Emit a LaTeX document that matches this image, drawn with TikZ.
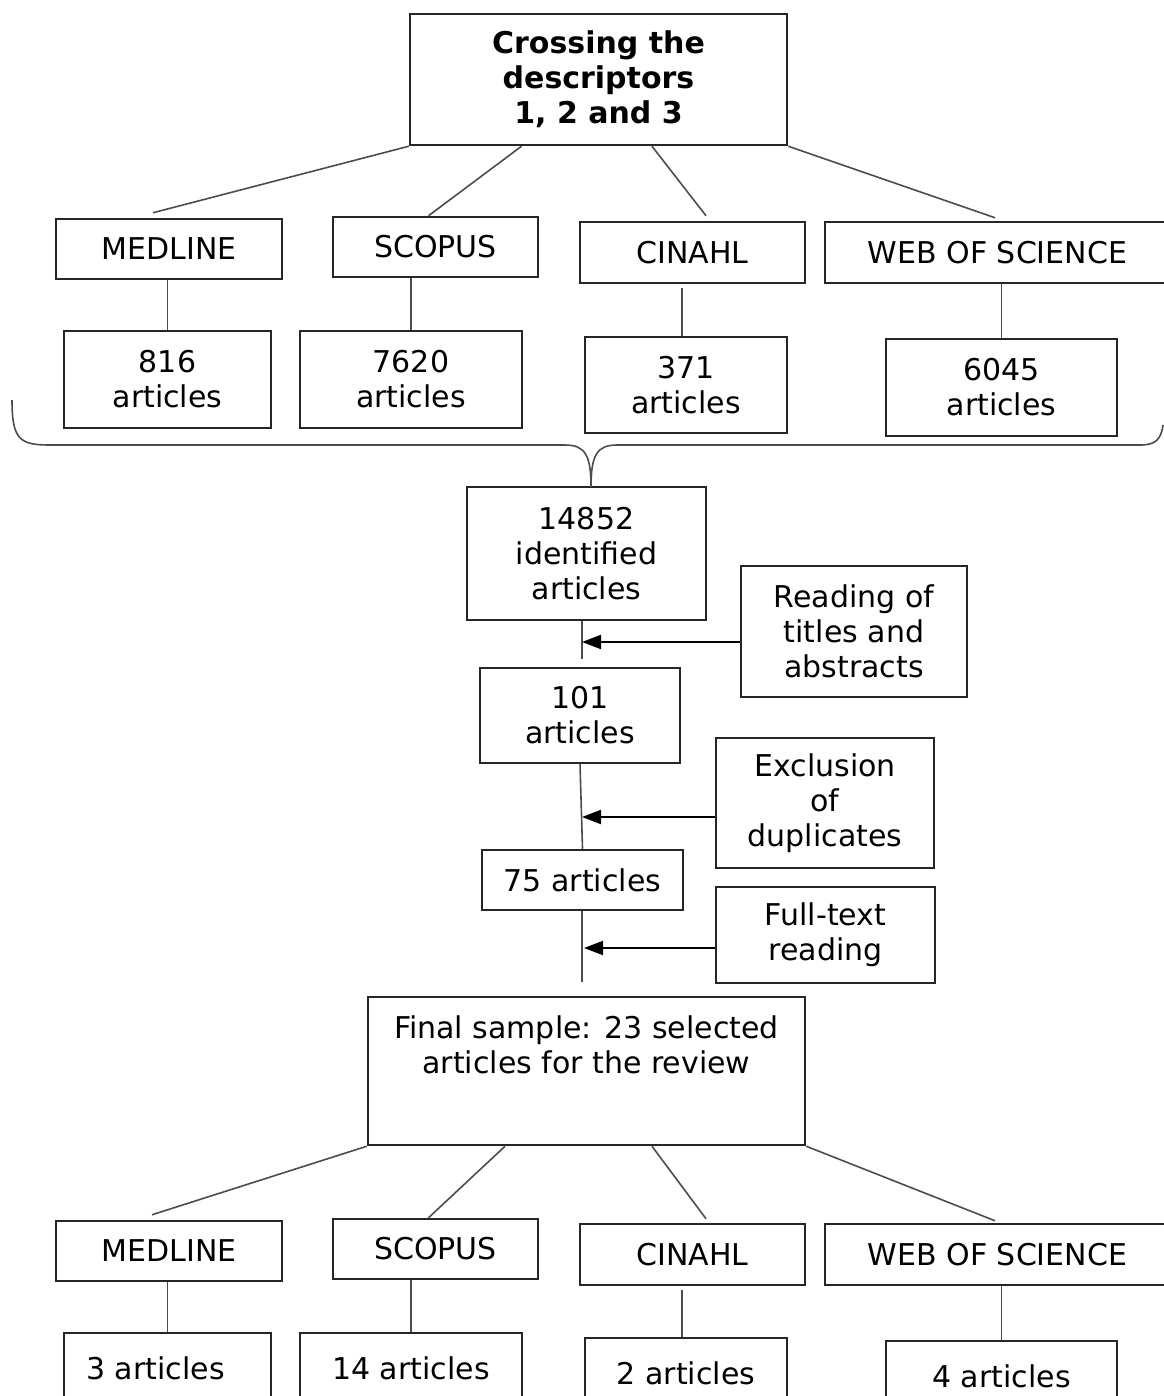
\documentclass[tikz,border=0pt]{standalone}
\usepackage{fontspec}
\setmainfont{DejaVu Sans}
\usetikzlibrary{arrows.meta, positioning, calc}

\begin{document}
\begin{tikzpicture}[x=0.5pt, y=-0.5pt,
  flowbox/.style={draw=black!85, line width=1.25pt, align=center, inner sep=0pt,
    font=\fontsize{15}{17.5}\selectfont},
  conn/.style={draw=black!70, line width=0.8pt},
  arr/.style={draw=black, line width=1pt, -{Triangle[length=9.5pt,width=7pt]}}]
  \useasboundingbox (0,0) rectangle (1163,1396);
  % search
  \node[flowbox, font=\fontsize{15}{17.5}\selectfont\bfseries, minimum width=188.5pt, minimum height=65.5pt]
    (top) at (598.5,79.5) {Crossing the\\descriptors\\1, 2 and 3};
  \node[flowbox, minimum width=113pt, minimum height=30pt] (med) at (169,249) {MEDLINE};
  \node[flowbox, minimum width=102.5pt, minimum height=30pt] (sco) at (435.5,247) {SCOPUS};
  \node[flowbox, minimum width=112.5pt, minimum height=30.5pt] (cin) at (692.5,252.5) {CINAHL};
  \node[flowbox, minimum width=172.5pt, minimum height=30.5pt] (wos) at (997.5,252.5) {WEB OF SCIENCE};
  \node[flowbox, minimum width=103.5pt, minimum height=48.5pt] (a816) at (167.5,379.5) {816\\articles};
  \node[flowbox, minimum width=111pt, minimum height=48.5pt] (a7620) at (411,379.5) {7620\\articles};
  \node[flowbox, minimum width=101pt, minimum height=48pt] (a371) at (686,385) {371\\articles};
  \node[flowbox, minimum width=115.5pt, minimum height=48.5pt] (a6045) at (1001.5,387.5) {6045\\articles};
  \draw[conn] (top.south west) -- ($(med.north)+(-16,-5)$);
  \draw[conn] ($(top.south)+(-77,0)$) -- ($(sco.north)+(-7,0)$);
  \draw[conn] ($(top.south)+(53.5,0)$) -- ($(cin.north)+(13.5,-5)$);
  \draw[conn] (top.south east) -- ($(wos.north)+(-2.5,-3)$);
  \draw[conn] (a816.north |- med.south) -- (a816.north);
  \draw[conn] (a7620.north |- sco.south) -- (a7620.north);
  \draw[conn] ($(a371.north |- cin.south)+(-4,4)$) -- ($(a371.north)+(-4,0)$);
  \draw[conn] (a6045.north |- wos.south) -- (a6045.north);
  % screening
  \node[flowbox, minimum width=119.5pt, minimum height=66.5pt] (ident) at (586.5,553.5) {14852\\identified\\articles};
  \draw[conn] (12,400) .. controls (12,440) and (20,445) .. (50,445) -- (565,445)
    .. controls (585,445) and (591,455) .. (591,487)
    .. controls (591,455) and (597,445) .. (617,445) -- (1140,445)
    .. controls (1155,445) and (1161,440) .. (1163,425);
  \node[flowbox, minimum width=113pt, minimum height=65.5pt] (read) at (854,631.5) {Reading of\\titles and\\abstracts};
  \node[flowbox, minimum width=100pt, minimum height=47.5pt] (a101) at (580,715.5) {101\\articles};
  \node[flowbox, minimum width=109pt, minimum height=65pt] (excl) at (825,803) {Exclusion\\of\\duplicates};
  \node[flowbox, minimum width=100.5pt, minimum height=30pt] (a75) at (582.5,880) {75 articles};
  \node[flowbox, minimum width=109.5pt, minimum height=48pt] (full) at (825.5,935) {Full-text\\reading};
  \node[flowbox, minimum width=218.5pt, minimum height=74pt] (final) at (586.5,1071) {};
  \node[font=\fontsize{15}{17.5}\selectfont, align=center, inner sep=0pt, below=10pt of final.north]
    (finaltxt) {Final sample: 23 selected\\articles for the review};
  \coordinate (r1) at (582,642);
  \coordinate (r2) at (582,817);
  \coordinate (r3) at (584,948);
  \draw[conn] (ident.south -| r1) -- ([yshift=4pt]a101.north -| r1);
  \draw[arr] (read.west |- r1) -- (r1);
  \draw[conn] (a101.south) -- (a75.north);
  \draw[arr] (excl.west |- r2) -- (r2);
  \draw[conn] (a75.south -| r2) -- ([yshift=7pt]final.north -| r2);
  \draw[arr] (full.west |- r3) -- (r3);
  % selected
  \node[flowbox, minimum width=113pt, minimum height=30pt] (med2) at (169,1251) {MEDLINE};
  \node[flowbox, minimum width=102.5pt, minimum height=30pt] (sco2) at (435.5,1249) {SCOPUS};
  \node[flowbox, minimum width=112.5pt, minimum height=30.5pt] (cin2) at (692.5,1254.5) {CINAHL};
  \node[flowbox, minimum width=172.5pt, minimum height=30.5pt] (wos2) at (997.5,1254.5) {WEB OF SCIENCE};
  \node[flowbox, minimum width=103.5pt, minimum height=35pt] (b3) at (167.5,1368) {3 articles\hspace{12pt}};
  \node[flowbox, minimum width=111pt, minimum height=35pt] (b14) at (411,1368) {14 articles};
  \node[flowbox, minimum width=101pt, minimum height=35pt] (b2) at (686,1373) {2 articles};
  \node[flowbox, minimum width=115.5pt, minimum height=35pt] (b4) at (1001.5,1376) {4 articles};
  \draw[conn] (final.south west) -- ($(med2.north)+(-17,-5)$);
  \draw[conn] ($(final.south)+(-81.5,0)$) -- ($(sco2.north)+(-7,0)$);
  \draw[conn] ($(final.south)+(65.5,0)$) -- ($(cin2.north)+(13.5,-4)$);
  \draw[conn] (final.south east) -- ($(wos2.north)+(-2.5,-2)$);
  \draw[conn] (b3.north |- med2.south) -- (b3.north);
  \draw[conn] (b14.north |- sco2.south) -- (b14.north);
  \draw[conn] ($(b2.north |- cin2.south)+(-4,4)$) -- ($(b2.north)+(-4,0)$);
  \draw[conn] (b4.north |- wos2.south) -- (b4.north);
\end{tikzpicture}
\end{document}
